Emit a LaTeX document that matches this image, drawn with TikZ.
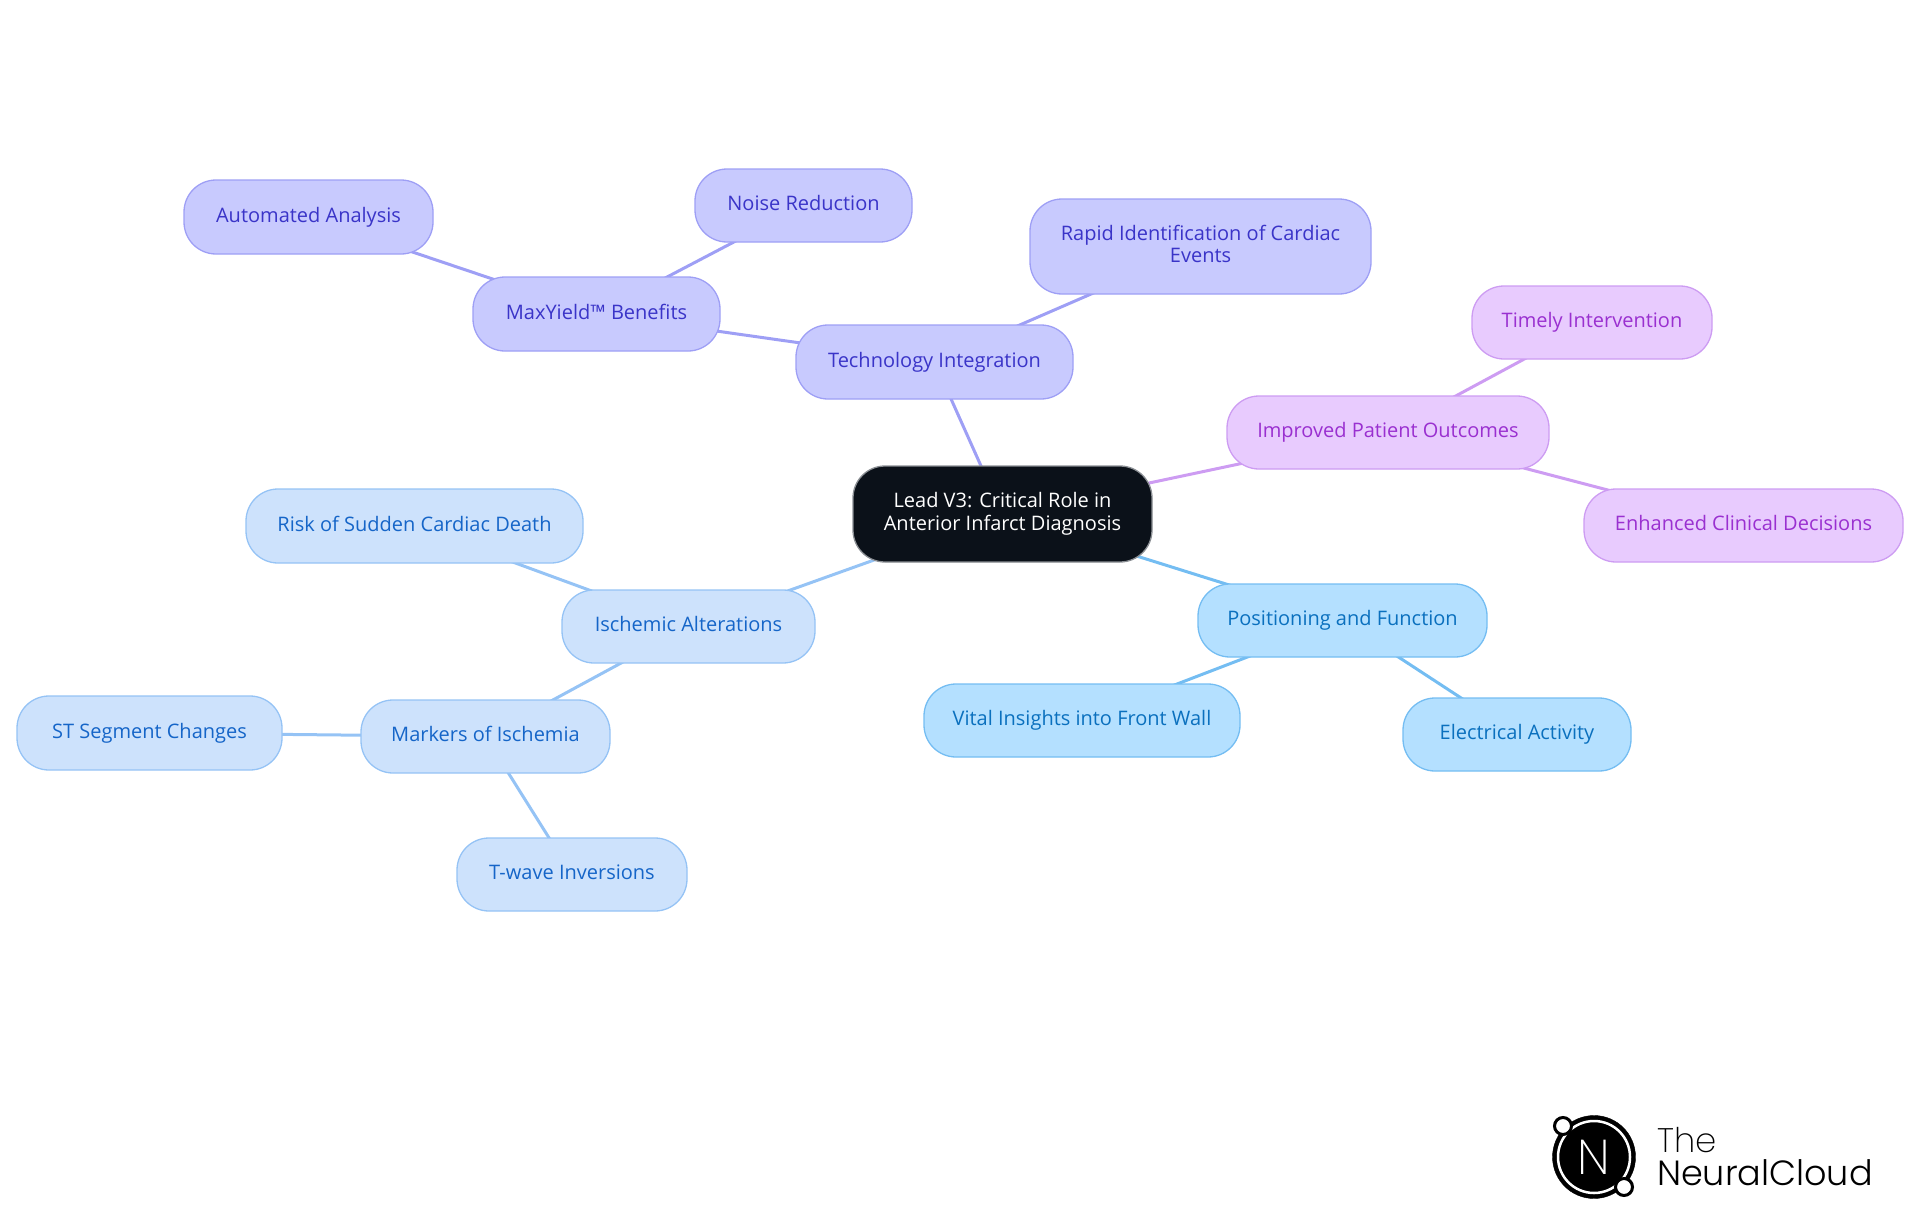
\documentclass[tikz,border=0pt]{standalone}
\usepackage{fontspec}
\setmainfont{Open Sans}
\newfontfamily\logofont{Poppins Light}
\newfontfamily\logothin{Poppins ExtraLight}
\usetikzlibrary{backgrounds}
\definecolor{rootfill}{HTML}{0B1119}
\definecolor{rootline}{HTML}{8A8E93}
\definecolor{indfill}{HTML}{C8CAFE}
\definecolor{indline}{HTML}{9E9FF5}
\definecolor{indtext}{HTML}{3A34C8}
\definecolor{purfill}{HTML}{E8CBFE}
\definecolor{purline}{HTML}{CD9CF2}
\definecolor{purtext}{HTML}{9A30D0}
\definecolor{blufill}{HTML}{CDE2FC}
\definecolor{bluline}{HTML}{95C3F5}
\definecolor{blutext}{HTML}{1565C8}
\definecolor{skyfill}{HTML}{B4E0FF}
\definecolor{skyline}{HTML}{74BDF2}
\definecolor{skytext}{HTML}{0A70BE}
\tikzset{
  x=1pt,y=-1pt,
  box/.style={rounded corners=32pt,line width=1.3pt,align=center,inner sep=0pt,
    font=\fontsize{20}{22.5}\selectfont,
    execute at begin node={\rule{0pt}{15pt}},
    execute at end node={\rule[-5pt]{0pt}{5pt}}},
  rootbox/.style={box,fill=rootfill,draw=rootline,text=white},
  indbox/.style={box,fill=indfill,draw=indline,text=indtext},
  purbox/.style={box,fill=purfill,draw=purline,text=purtext},
  blubox/.style={box,fill=blufill,draw=bluline,text=blutext},
  skybox/.style={box,fill=skyfill,draw=skyline,text=skytext},
  indlink/.style={draw=indline,line width=3pt},
  purlink/.style={draw=purline,line width=3pt},
  blulink/.style={draw=bluline,line width=3pt},
  skylink/.style={draw=skyline,line width=3pt},
}
\newcommand{\mapnode}[7]{% style,name,x0,y0,x1,y1,text
  \pgfmathsetmacro{\mw}{#5-#3}\pgfmathsetmacro{\mh}{#6-#4}
  \pgfmathsetmacro{\mx}{(#3+#5)/2}\pgfmathsetmacro{\my}{(#4+#6)/2}
  \node[#1,minimum width=\mw pt,minimum height=\mh pt] (#2) at (\mx,\my) {#7};
}
\begin{document}
\begin{tikzpicture}
\useasboundingbox (0,0) rectangle (1920,1215);
\mapnode{rootbox}{root}{853}{466}{1152}{562}{Lead V3: Critical Role in\\Anterior Infarct Diagnosis}
\mapnode{indbox}{tech}{796}{325}{1073}{399}{Technology Integration}
\mapnode{indbox}{rapid}{1030}{199}{1371}{294}{Rapid Identification of Cardiac\\Events}
\mapnode{indbox}{maxy}{473}{277}{720}{351}{MaxYield™ Benefits}
\mapnode{indbox}{noise}{695}{169}{912}{242}{Noise Reduction}
\mapnode{indbox}{auto}{184}{180}{433}{254}{Automated Analysis}
\mapnode{purbox}{impr}{1227}{396}{1549}{469}{Improved Patient Outcomes}
\mapnode{purbox}{time}{1472}{286}{1712}{359}{Timely Intervention}
\mapnode{purbox}{enh}{1584}{489}{1903}{562}{Enhanced Clinical Decisions}
\mapnode{skybox}{posi}{1198}{584}{1487}{657}{Positioning and Function}
\mapnode{skybox}{vital}{924}{684}{1240}{757}{Vital Insights into Front Wall}
\mapnode{skybox}{elec}{1403}{698}{1631}{771}{Electrical Activity}
\mapnode{blubox}{isch}{562}{590}{815}{663}{Ischemic Alterations}
\mapnode{blubox}{risk}{246}{489}{583}{563}{Risk of Sudden Cardiac Death}
\mapnode{blubox}{mark}{361}{700}{610}{773}{Markers of Ischemia}
\mapnode{blubox}{stseg}{17}{696}{282}{770}{ST Segment Changes}
\mapnode{blubox}{twave}{457}{838}{687}{911}{T-wave Inversions}
\begin{pgfonlayer}{background}
\draw[indlink] (root.center) -- (tech.center);
\draw[indlink] (tech.center) -- (rapid.center);
\draw[indlink] (tech.center) -- (maxy.center);
\draw[indlink] (maxy.center) -- (noise.center);
\draw[indlink] (maxy.center) -- (auto.center);
\draw[purlink] (root.center) -- (impr.center);
\draw[purlink] (impr.center) -- (time.center);
\draw[purlink] (impr.center) -- (enh.center);
\draw[skylink] (root.center) -- (posi.center);
\draw[skylink] (posi.center) -- (vital.center);
\draw[skylink] (posi.center) -- (elec.center);
\draw[blulink] (root.center) -- (isch.center);
\draw[blulink] (isch.center) -- (risk.center);
\draw[blulink] (isch.center) -- (mark.center);
\draw[blulink] (mark.center) -- (stseg.center);
\draw[blulink] (mark.center) -- (twave.center);
\end{pgfonlayer}
% logo
\node[circle,fill=black,draw=black,minimum size=83pt,inner sep=0pt] (logoout) at (1594,1157) {};
\node[circle,draw=white,line width=2.5pt,minimum size=72pt,inner sep=0pt] (logoring) at (1594,1157) {};
\node[circle,fill=white,draw=black,line width=3pt,minimum size=17pt,inner sep=0pt] (logoa) at (1563,1126) {};
\node[circle,fill=white,draw=black,line width=3pt,minimum size=17pt,inner sep=0pt] (logob) at (1624,1187) {};
\node[text=white,font=\logothin\fontsize{49}{49}\selectfont,inner sep=0pt] (logon) at (1594,1157) {N};
\node[anchor=base west,inner sep=0pt,font=\logothin\fontsize{34}{34}\selectfont] (logot) at (1657,1152) {The};
\node[anchor=base west,inner sep=0pt,font=\logofont\fontsize{35}{35}\selectfont] (logoc) at (1657,1185) {NeuralCloud};
\end{tikzpicture}
\end{document}
